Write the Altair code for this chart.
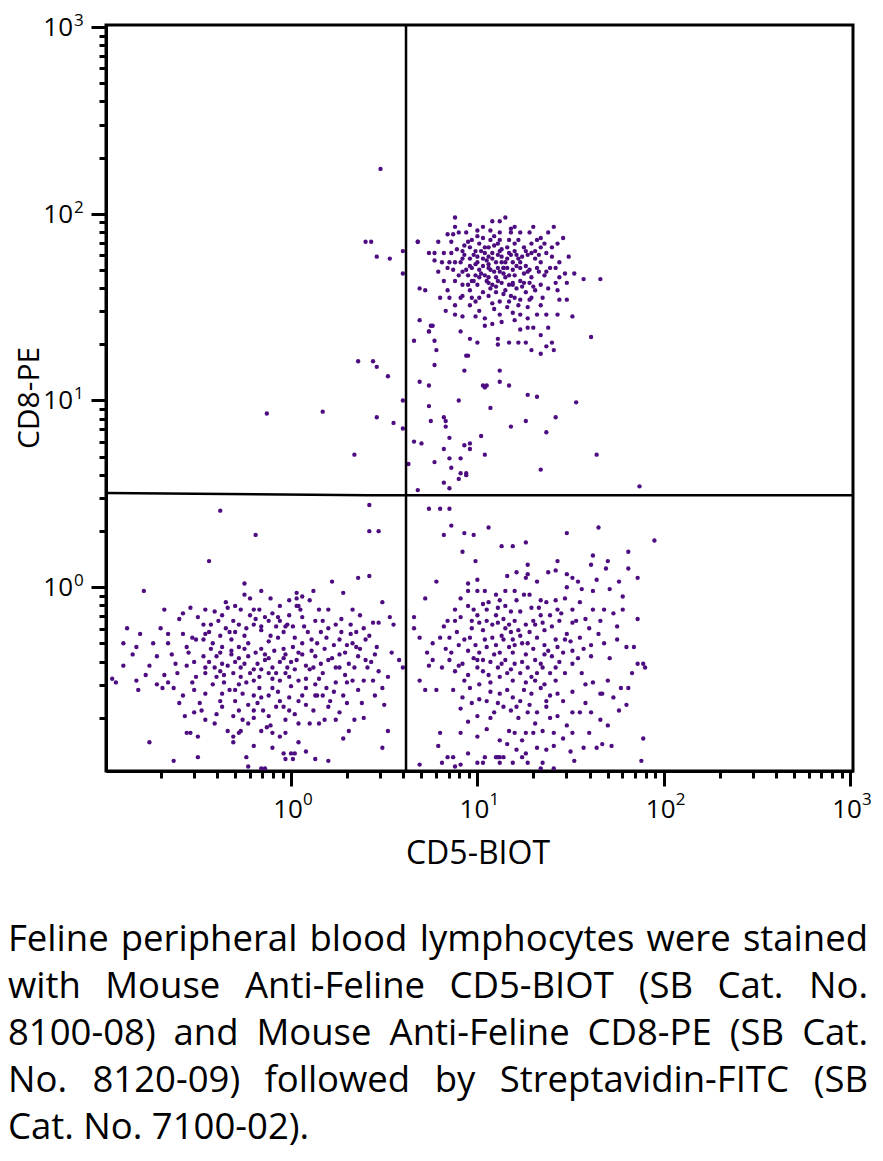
import altair as alt
import pandas as pd

# Events, stored as log10 values x100 (CD5, CD8)
scattered = [(48,224),(40,185),(43,185),(46,177),(53,176),(60,180),(60,168),(68,185),(69,160),(72,159),(69,143),(75,140),(74,137),(66,132),(77,132),(78,127),(94,124),(77,119),(93,116),(112,116),(36,121),(44,121),(46,118),(52,113),(69,110),(74,108),(103,108),(104,107),(105,108),(112,110),(117,108),(127,103),(132,102),(153,99),(60,100),(90,100),(74,97),(107,96),(-13,93),(17,94),(46,91),(55,88),(60,85),(75,89),(82,91),(83,89),(83,86),(126,89),(142,91),(118,86),(137,83),(102,81),(85,80),(66,78),(70,77),(93,76),(96,77),(96,74),(82,74),(104,71),(34,71),(164,71),(77,67),(85,69),(91,69),(63,66),(86,64),(91,61),(94,61),(94,60),(134,63),(82,56),(90,58),(85,53),(68,52),(187,54),(42,44),(-38,41),(74,42),(80,42),(85,42)]

upper_right = [(88,198),(108,196),(112,196),(115,198),(96,194),(88,193),(103,193),(120,193),(130,193),(141,193),(79,185),(84,189),(87,189),(90,190),(94,190),(100,191),(107,191),(112,190),(118,190),(123,190),(128,190),(134,187),(138,190),(146,187),(68,185),(74,179),(77,179),(82,179),(86,179),(92,180),(96,182),(101,184),(106,182),(111,184),(116,182),(120,184),(125,182),(129,184),(134,182),(140,182),(143,184),(77,175),(81,174),(85,174),(91,174),(96,176),(100,177),(104,179),(108,176),(113,177),(118,178),(122,176),(127,178),(131,176),(137,179),(144,174),(149,177),(79,169),(87,170),(92,169),(97,171),(101,170),(106,171),(111,171),(114,171),(119,170),(123,171),(127,169),(132,171),(137,169),(142,171),(147,168),(152,168),(157,165),(166,165),(82,164),(84,159),(88,164),(92,162),(97,164),(101,166),(106,163),(111,164),(115,166),(119,163),(124,161),(128,163),(134,162),(138,160),(143,159),(148,163),(80,155),(85,155),(92,156),(97,155),(101,155),(108,152),(112,153),(116,150),(120,155),(122,151),(129,155),(135,155),(144,154),(148,154),(76,140),(88,146),(92,145),(99,145),(104,140),(108,141),(112,146),(113,142),(119,147),(123,146),(127,144),(132,146),(137,146),(143,146),(151,145),(74,137),(91,137),(96,133),(100,131),(111,133),(117,131),(122,131),(123,138),(127,139),(130,139),(134,135),(138,139),(140,131),(137,129),(141,127),(161,134),(95,124),(111,130),(129,127),(134,125),(126,131),
(93,183),(99,180),(104,182),(108,179),(112,180),(117,179),(120,180),(100,174),(105,175),(110,174),(115,174),(119,174),(123,174),(96,172),(103,172),(107,170),(112,169),(117,167),(120,167),(126,172),(128,170),(110,166),(113,163),(104,167),(100,162),(107,160),(115,159),(119,162),(123,164),(126,158),(96,159),(90,167),(93,178),(88,174),(84,171),(91,155),(96,151),(101,148),(106,156),(110,158),(112,186),(107,186),(103,187),(97,186),(117,186),(122,186),(126,180),(131,180),(134,174),(136,167),(131,159),(128,154),(99,167),(95,167),(111,178),(114,171),(105,164),(108,162),(118,156),(123,154),(134,151),(88,151),(83,148),(120,143),(104,144),
(95,185),(98,178),(102,180),(106,177),(109,183),(113,181),(116,176),(121,178),(124,177),(129,179),(133,178),(99,173),(103,176),(106,173),(109,169),(113,174),(116,171),(121,172),(125,168),(129,166),(133,169),(98,164),(102,168),(106,166),(110,161),(114,168),(117,162),(121,160),(125,163),(130,161),(94,170),(92,176),(89,181),(86,185),(132,186),(136,184),(140,177),(139,171),(144,166),(142,163),(118,192),(109,188),(100,188),(95,162),(103,158),(114,157),(127,150),(117,153),(109,149),(99,153)]

lower_left = [(-19,28),(42,30),(47,30),(-44,14),(42,6),(36,5),(22,3),(-79,-2),(-25,2),(-25,-4),(-16,-2),(3,-3),(3,-6),(6,-5),(12,-2),(28,-3),(49,-8),(-68,-12),(-54,-11),(-46,-12),(-34,-11),(-30,-10),(-27,-12),(-20,-12),(-17,-12),(-11,-6),(-10,-14),(-7,-16),(-2,-20),(3,-10),(4,-10),(15,-12),(20,-12),(17,-18),(27,-17),(33,-12),(-60,-17),(-58,-25),(-53,-27),(-47,-20),(-46,-25),(-43,-20),(-39,-18),(-35,-22),(-31,-18),(-28,-20),(-24,-22),(-20,-20),(-16,-21),(-12,-18),(-8,-21),(-3,-21),(1,-21),(7,-21),(13,-18),(20,-22),(27,-24),(32,-25),(39,-22),(44,-19),(47,-19),(53,-16),(55,-20),(-88,-22),(-81,-25),(-90,-30),(-83,-32),(-85,-36),(-72,-37),(-90,-42),(-78,-47),(-96,-49),(-94,-51),(-83,-50),(-82,-55),(-66,-30),(-56,-32),(-55,-35),(-64,-36),(-62,-41),(-56,-42),(-61,-46),(-68,-47),(-69,-54),(-66,-51),(-63,-54),(-53,-51),(-49,-62),(-46,-57),(-51,-28),(-47,-28),(-42,-30),(-37,-32),(-32,-28),(-28,-32),(-23,-30),(-16,-33),(-12,-29),(-7,-27),(-4,-33),(1,-32),(6,-30),(11,-28),(14,-30),(19,-27),(23,-31),(26,-28),(30,-31),(33,-30),(37,-33),(40,-28),(46,-32),(54,-35),(58,-39),(-47,-37),(-44,-40),(-40,-37),(-37,-41),(-32,-36),(-28,-38),(-23,-37),(-18,-41),(-14,-39),(-10,-43),(-6,-40),(-2,-43),(3,-39),(8,-42),(12,-43),(16,-41),(20,-39),(26,-43),(31,-41),(36,-37),(41,-43),(-51,-48),(-46,-46),(-40,-48),(-36,-47),(-31,-46),(-27,-48),(-24,-51),(-20,-50),(-17,-48),(-12,-46),(-8,-46),(-6,-50),(-1,-48),(4,-50),(10,-44),(15,-49),(19,-54),(24,-51),(30,-51),(33,-50),(39,-50),(44,-50),(49,-54),(45,-58),(50,-63),(-37,-57),(-33,-55),(-28,-52),(-26,-57),(-20,-58),(-17,-54),(-12,-58),(-10,-54),(-1,-59),(4,-61),(8,-54),(13,-58),(20,-64),(26,-67),(30,-62),(34,-71),(39,-70),(-57,-69),(-52,-67),(-46,-71),(-41,-73),(-37,-64),(-31,-69),(-26,-71),(-23,-73),(-20,-70),(-15,-66),(-12,-69),(-8,-64),(-16,-77),(-20,-85),(-10,-78),(-3,-78),(4,-73),(10,-73),(15,-73),(24,-71),(31,-77),(52,-77),(-56,-78),(-54,-78),(-50,-80),(-31,-80),(-28,-78),(-31,-83),(-13,-75),(-10,-86),(0,-89),(8,-88),(4,-83),(20,-93),(28,-81),(49,-86),(-76,-83),(-63,-93),(-50,-91),(-24,-91),(-23,-96),(-14,-97),(1,-92),(2,-89),(-4,-89),(-3,-92),(13,-92),(-16,-97),
(-41,-13),(-37,-15),(-33,-24),(-25,-26),(-19,-17),(-16,-23),(-11,-26),(-4,-24),(-1,-15),(2,-27),(9,-24),(11,-34),(4,-35),(-3,-36),(-9,-34),(-14,-36),(-19,-35),(-25,-33),(-32,-34),(-38,-35),(-43,-33),(-41,-43),(-34,-42),(-27,-43),(-22,-46),(-16,-44),(-10,-49),(-3,-46),(2,-44),(8,-49),(13,-52),(17,-46),(24,-43),(29,-47),(34,-43),(14,-58),(8,-63),(-1,-66),(-6,-61),(-16,-59),(-23,-63),(-30,-61),(-38,-61),(5,-12),(10,-7),(-1,-7),(-6,-10),(-35,-8),(-22,-6),(32,-20),(37,-15),(40,-39),(45,-36),(26,-36),(21,-61),(-3,-71),(-11,-74),(-27,-77),(-34,-77),
(-58,-14),(-50,-16),(-44,-24),(-38,-26),(-30,-24),(-22,-15),(-14,-16),(-6,-18),(6,-16),(16,-24),(24,-20),(35,-24),(42,-26),(-52,-40),(-46,-43),(-38,-45),(-30,-40),(-25,-41),(-20,-44),(-12,-38),(-4,-38),(0,-40),(6,-36),(13,-37),(18,-33),(22,-38),(29,-35),(35,-32),(43,-40),(-58,-58),(-52,-55),(-42,-52),(-36,-51),(-30,-55),(-18,-62),(-7,-56),(0,-53),(6,-58),(17,-58),(23,-56),(28,-58),(36,-55),(-48,-66),(-40,-68),(-28,-66),(-20,-66),(-4,-64),(2,-68),(12,-66),(18,-71),(-70,-22),(-66,-25),(-74,-30),(-76,-42),(-72,-52),(-60,-62),(47,-45),(52,-48),(38,-62),(-6,-80)]

lower_right = [(82,28),(86,33),(93,29),(98,28),(106,32),(148,29),(165,32),(195,25),(113,22),(119,22),(126,24),(92,19),(99,14),(127,12),(143,14),(162,17),(181,19),(78,3),(100,4),(95,2),(95,-2),(100,-2),(116,6),(121,8),(126,5),(127,7),(132,3),(138,8),(142,9),(148,7),(151,5),(148,0),(154,3),(156,-1),(162,-2),(161,12),(164,4),(169,10),(170,14),(176,3),(181,10),(186,5),(171,-1),(178,-5),(72,-6),(66,-16),(66,-22),(69,-27),(73,-35),(74,-42),(60,-43),(91,-6),(98,-12),(103,-9),(105,-12),(111,-11),(112,-7),(115,-10),(121,-7),(123,-13),(125,-4),(129,-11),(134,-15),(137,-8),(142,-7),(143,-12),(147,-6),(151,-12),(153,-18),(158,-17),(162,-12),(168,-12),(173,-14),(178,-12),(166,-18),(175,-21),(186,-17),(82,-21),(84,-18),(88,-18),(91,-16),(97,-18),(101,-19),(105,-18),(111,-19),(115,-22),(120,-18),(130,-18),(135,-19),(140,-21),(144,-18),(148,-25),(151,-19),(155,-27),(76,-30),(80,-27),(85,-27),(86,-35),(90,-31),(92,-41),(96,-27),(101,-35),(105,-32),(108,-27),(112,-35),(117,-32),(119,-35),(123,-26),(127,-30),(132,-27),(136,-31),(138,-34),(143,-32),(146,-35),(151,-34),(161,-31),(168,-30),(171,-38),(175,-28),(180,-32),(184,-32),(76,-39),(81,-43),(85,-39),(90,-42),(95,-47),(100,-43),(103,-39),(106,-47),(111,-43),(112,-48),(116,-46),(120,-41),(123,-46),(127,-43),(132,-46),(135,-43),(142,-43),(147,-46),(151,-41),(156,-46),(161,-37),(162,-51),(166,-57),(170,-50),(177,-54),(181,-54),(186,-41),(189,-41),(190,-43),(69,-50),(72,-55),(78,-55),(92,-59),(97,-62),(107,-56),(112,-57),(116,-55),(119,-59),(125,-55),(129,-57),(134,-54),(137,-61),(143,-57),(146,-61),(151,-56),(167,-57),(173,-59),(180,-63),(100,-69),(105,-61),(111,-62),(118,-66),(121,-64),(127,-67),(132,-67),(137,-64),(143,-69),(151,-67),(155,-67),(161,-67),(166,-71),(170,-74),(80,-78),(79,-85),(91,-78),(105,-76),(112,-82),(117,-77),(120,-78),(126,-78),(130,-78),(135,-77),(141,-78),(146,-81),(151,-78),(157,-86),(164,-86),(167,-84),(172,-85),(189,-81),(88,-96),(103,-94),(110,-91),(112,-91),(121,-87),(127,-94),(132,-86),(137,-87),(141,-97),(134,-97),(126,-89),(188,-93),(69,-95),(81,-94),(84,-91),(87,-91),(91,-95),(95,-89),(100,-94),(104,-91),(111,-91),(114,-91),(112,-94),(119,-94),(124,-91),(135,-94),(152,-93),
(110,-15),(114,-17),(118,-13),(126,-20),(128,-24),(131,-20),(136,-23),(119,-28),(114,-28),(110,-31),(104,-28),(99,-31),(95,-34),(100,-39),(107,-40),(115,-39),(120,-31),(126,-36),(131,-39),(136,-36),(142,-28),(147,-28),(134,-7),(128,-4),(120,-2),(115,-2),(110,-4),(104,-2),(119,-50),(126,-51),(131,-50),(136,-52),(142,-50),(107,-51),(101,-52),(96,-54),(123,-61),(128,-63),(139,-58),
(88,-12),(95,-10),(100,-15),(106,-8),(117,-20),(122,-23),(133,-11),(139,-15),(145,-14),(155,-8),(160,-22),(89,-24),(93,-28),(97,-22),(103,-23),(108,-20),(113,-26),(118,-24),(124,-30),(130,-33),(140,-37),(150,-29),(157,-33),(165,-25),(83,-33),(88,-45),(93,-50),(98,-38),(103,-45),(109,-36),(113,-41),(118,-44),(124,-40),(129,-48),(134,-41),(139,-46),(144,-40),(154,-38),(158,-52),(87,-55),(91,-65),(101,-60),(109,-67),(114,-64),(122,-70),(131,-73),(139,-70),(148,-74),(158,-62),(95,-72),(100,-80),(107,-70),(116,-84),(124,-82),(141,-85),(150,-88),(160,-78),(176,-66),(183,-46)]

# Quadrant gates
gate_cd5 = 4.14
gate_line_cd5 = [0.1016, 2.6, 1037]
gate_line_cd8 = [3.2, 3.11, 3.11]

decades = [1, 10, 100, 1000]
exponents = ["0", "1", "2", "3"]

caption_lines = [
    ("Feline peripheral blood lymphocytes were stained", True),
    ("with Mouse Anti-Feline CD5-BIOT (SB Cat. No.", True),
    ("8100-08) and Mouse Anti-Feline CD8-PE (SB Cat.", True),
    ("No. 8120-09) followed by Streptavidin-FITC (SB", True),
    ("Cat. No. 7100-02).", False),
]

FONT = "Open Sans"
COLOR = "#4d0c80"
CAP_SIZE = 36.5

# approximate Open Sans advance widths (per 1000 em) for justifying caption lines
W = {' ': 260, '(': 297, ')': 297, '-': 322, '.': 266, 'A': 633, 'B': 648, 'C': 631, 'D': 729, 'E': 556,
     'F': 516, 'I': 279, 'M': 905, 'N': 781, 'O': 779, 'P': 604, 'S': 550, 'T': 558,
     'a': 556, 'b': 613, 'c': 476, 'd': 613, 'e': 561, 'f': 339, 'h': 615, 'i': 253, 'l': 253,
     'm': 930, 'n': 615, 'o': 604, 'p': 613, 'r': 408, 's': 477, 't': 353, 'u': 615, 'v': 501,
     'w': 778, 'y': 502}


def text_w(s):
    return sum(W.get(ch, 572) for ch in s) * CAP_SIZE / 1000


rows = []
for pop, pts in [("CD5+CD8+", upper_right), ("CD5-CD8-", lower_left), ("CD5+CD8-", lower_right), ("other", scattered)]:
    for a, b in pts:
        rows.append({"cd5": 10 ** (a / 100), "cd8": 10 ** (b / 100), "pop": pop})
df = pd.DataFrame(rows)

X_DOMAIN = [0.1016, 1037]
Y_DOMAIN = [0.1037, 1025]
tick_vals = [round(k * 10 ** e, 6) for e in (-1, 0, 1, 2) for k in range(1, 10) if not (e == -1 and k == 1)] + [1000]
is_major = "abs(log(datum.value)/LN10 - round(log(datum.value)/LN10)) < 0.001"

xscale = alt.Scale(type="log", domain=X_DOMAIN, nice=False)
yscale = alt.Scale(type="log", domain=Y_DOMAIN, nice=False)


def make_axis(orient):
    return alt.Axis(values=tick_vals, labels=False, title=None, grid=False, orient=orient,
                    tickSize={"condition": {"test": is_major, "value": 15}, "value": 7},
                    tickWidth=3, tickColor="black", domainWidth=3, domainColor="black")


AX_X = make_axis("bottom")
AX_Y = make_axis("left")

points = alt.Chart(df).mark_circle(size=19, color=COLOR, opacity=1).encode(
    x=alt.X("cd5:Q", scale=xscale, axis=AX_X),
    y=alt.Y("cd8:Q", scale=yscale, axis=AX_Y),
)

hline = alt.Chart(pd.DataFrame({"cd5": gate_line_cd5, "cd8": gate_line_cd8})).mark_line(
    color="black", strokeWidth=2.5).encode(
    x=alt.X("cd5:Q", scale=xscale, axis=AX_X),
    y=alt.Y("cd8:Q", scale=yscale, axis=AX_Y),
)
vline = alt.Chart(pd.DataFrame({"cd5": [gate_cd5]})).mark_rule(color="black", strokeWidth=2.5).encode(
    x=alt.X("cd5:Q", scale=xscale, axis=AX_X),
)

lab = pd.DataFrame({"v": decades, "e": exponents})
x10 = alt.Chart(lab).mark_text(text="10", font=FONT, fontSize=26, align="center", baseline="middle", dx=-3).encode(
    x=alt.X("v:Q", scale=xscale, axis=AX_X), y=alt.value(785))
xexp = alt.Chart(lab).mark_text(font=FONT, fontSize=17, align="left", baseline="middle", dx=12).encode(
    x=alt.X("v:Q", scale=xscale, axis=AX_X), y=alt.value(775), text="e:N")
y10 = alt.Chart(lab).mark_text(text="10", font=FONT, fontSize=26, align="right", baseline="middle", dy=1).encode(
    y=alt.Y("v:Q", scale=yscale, axis=AX_Y), x=alt.value(-33))
yexp = alt.Chart(lab).mark_text(font=FONT, fontSize=17, align="left", baseline="middle", dy=-6).encode(
    y=alt.Y("v:Q", scale=yscale, axis=AX_Y), x=alt.value(-32), text="e:N")

xtitle = alt.Chart(pd.DataFrame({"t": ["CD5-BIOT"]})).mark_text(
    font=FONT, fontSize=32, align="center", baseline="middle").encode(
    text="t:N", x=alt.value(372), y=alt.value(829))
ytitle = alt.Chart(pd.DataFrame({"t": ["CD8-PE"]})).mark_text(
    font=FONT, fontSize=30, align="center", baseline="middle", angle=270).encode(
    text="t:N", x=alt.value(-76), y=alt.value(373))

layers = [points, hline, vline, x10, xexp, y10, yexp, xtitle, ytitle]

LEFT, RIGHT, FIRST_BASE, LEAD = 8, 868, 951, 47
for li, (line, justify) in enumerate(caption_lines):
    base = FIRST_BASE + li * LEAD
    words = line.split(" ")
    if justify and len(words) > 1:
        widths = [text_w(w) for w in words]
        gap = (RIGHT - LEFT - sum(widths)) / (len(words) - 1)
        xs, cur = [], LEFT
        for w in widths:
            xs.append(cur)
            cur += w + gap
        items = list(zip(words, xs))
    else:
        items = [(line, LEFT)]
    for i, (w, px) in enumerate(items):
        last = justify and i == len(items) - 1
        m = alt.Chart(pd.DataFrame({"t": [w]})).mark_text(
            font=FONT, fontSize=CAP_SIZE, align="right" if last else "left", baseline="alphabetic").encode(
            text="t:N", x=alt.value((RIGHT if last else px) - 106), y=alt.value(base - 25))
        layers.append(m)

chart = alt.layer(*layers).properties(
    width=747, height=746,
    autosize=alt.AutoSizeParams(type="none"),
    padding={"left": 98, "top": 17, "right": 20, "bottom": 378},
    background="white",
).configure_view(stroke="black", strokeWidth=3)

chart.save("out.html", embed_options={"renderer": "svg", "actions": False})
